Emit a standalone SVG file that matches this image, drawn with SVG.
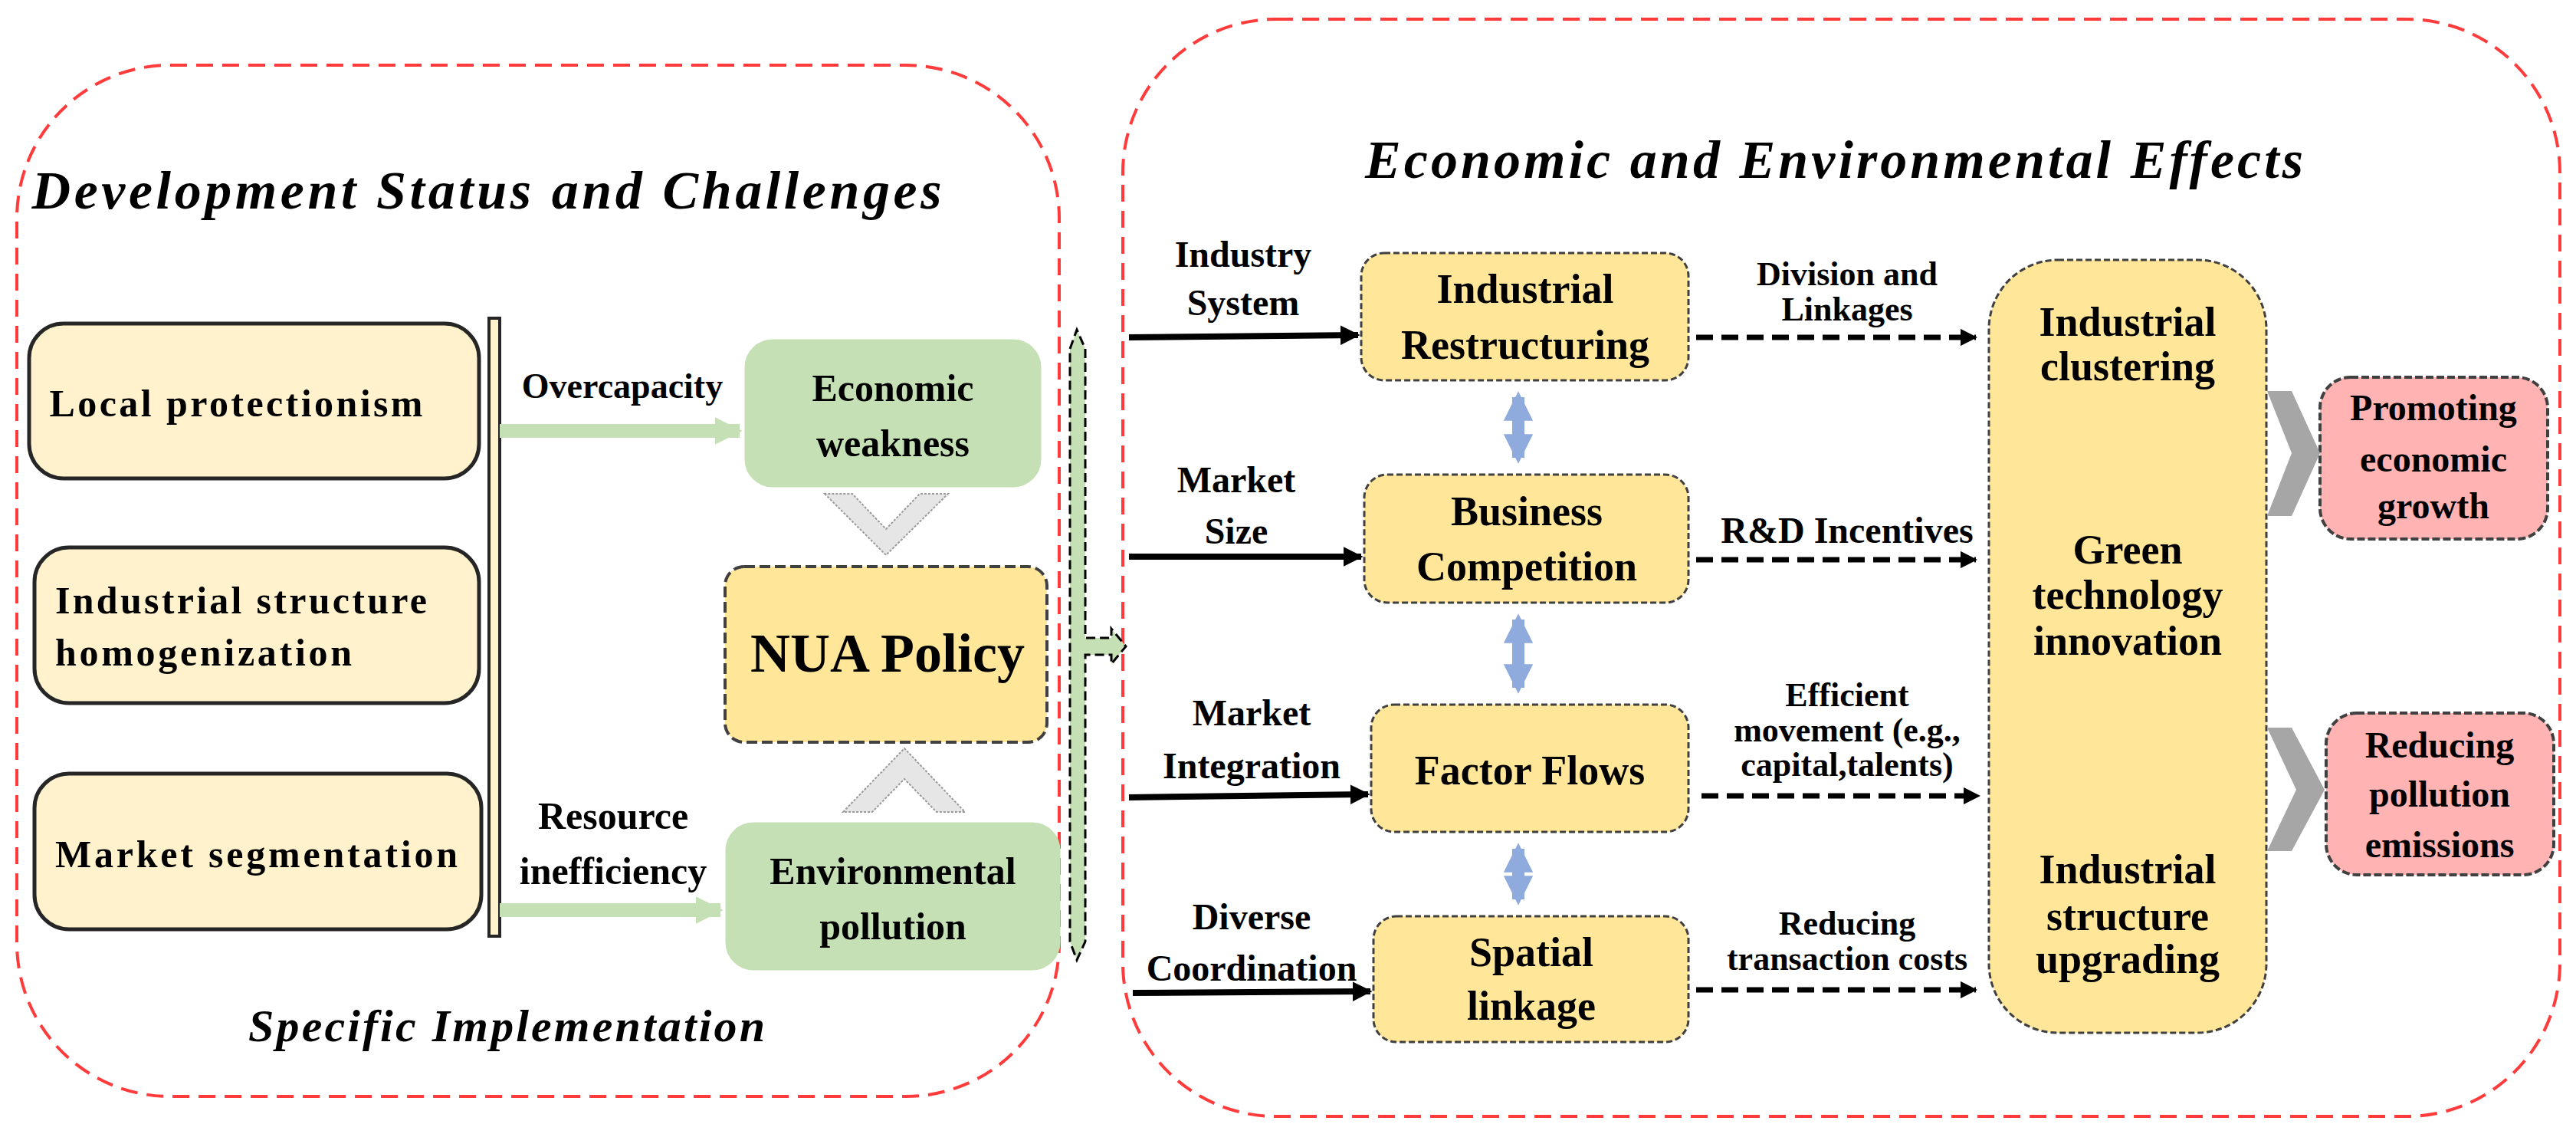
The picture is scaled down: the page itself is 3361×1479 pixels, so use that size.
<svg xmlns="http://www.w3.org/2000/svg" width="3361" height="1479" viewBox="0 0 3361 1479" font-family="'Liberation Serif', 'Times New Roman', 'DejaVu Serif', serif">
<defs>
<style>
text{font-family:'Liberation Serif','Times New Roman','DejaVu Serif',serif;font-weight:bold;fill:#000;text-anchor:middle}
.t{font-style:italic;font-size:70px}
.l{font-size:50px}
.m{font-size:54px}
.e{font-size:48px}
.s{font-size:44px}
.cont{fill:none;stroke:#FF3B3B;stroke-width:4;stroke-dasharray:22 12}
.lb{fill:#FFF2CC;stroke:#262626;stroke-width:5}
.gb{fill:#C5E0B4;stroke:#C5E0B4;stroke-width:3}
.yb{fill:#FFE699;stroke:#404040;stroke-width:3;stroke-dasharray:8 4}
.pb{fill:#FFB3B3;stroke:#404040;stroke-width:4;stroke-dasharray:10 4}
.ga{stroke:#C5E0B4;stroke-width:18;fill:none}
.bk{stroke:#000;stroke-width:8;fill:none}
.dk{stroke:#000;stroke-width:7;fill:none;stroke-dasharray:22 11}
.ba{stroke:#8FAADC;stroke-width:16;fill:none}
</style>
<marker id="ah" viewBox="0 0 10 10" refX="9" refY="5" markerWidth="3.2" markerHeight="3.2" orient="auto" markerUnits="strokeWidth"><path d="M0 0L10 5L0 10z" fill="#000"/></marker>
<marker id="gh" viewBox="0 0 10 10" refX="9" refY="5" markerWidth="2" markerHeight="3" orient="auto" markerUnits="strokeWidth"><path d="M0 0L10 5L0 10z" fill="#C5E0B4"/></marker>
<marker id="bh" viewBox="0 0 10 10" refX="8" refY="5" markerWidth="2.4" markerHeight="2.8" orient="auto-start-reverse" markerUnits="strokeWidth"><path d="M0 0L10 5L0 10z" fill="#8FAADC"/></marker>
</defs>
<rect width="3361" height="1479" fill="#fff"/>
<g id="containers">
<rect class="cont" x="22" y="85" width="1360" height="1345" rx="200"/>
<rect class="cont" x="1465" y="25" width="1875" height="1431" rx="200"/>
</g>
<g id="titles">
<text class="t" x="635" y="272" textLength="1187">Development Status and Challenges</text>
<text class="t" x="2393" y="232" textLength="1224">Economic and Environmental Effects</text>
<text class="t" x="661" y="1358" style="font-size:60px" textLength="674">Specific Implementation</text>
</g>
<g id="n-local"><rect class="lb" x="38" y="422" width="587" height="202" rx="45"/><text class="l" x="308" y="543" textLength="487">Local protectionism</text></g>
<g id="n-homog"><rect class="lb" x="45" y="714" width="580" height="203" rx="45"/><text class="l" x="72" y="800" style="text-anchor:start" textLength="485">Industrial structure</text><text class="l" x="72" y="868" style="text-anchor:start" textLength="387">homogenization</text></g>
<g id="n-seg"><rect class="lb" x="45" y="1009" width="583" height="203" rx="45"/><text class="l" x="72" y="1131" style="text-anchor:start" textLength="525">Market segmentation</text></g>
<g id="n-bar"><rect x="638" y="415" width="14" height="806" fill="#FFF2CC" stroke="#262626" stroke-width="4"/></g>
<g id="n-econ"><rect class="gb" x="973" y="444" width="384" height="190" rx="35"/><text class="l" x="1165" y="523">Economic</text><text class="l" x="1165" y="595">weakness</text></g>
<g id="n-env"><rect class="gb" x="948" y="1074" width="434" height="190" rx="35"/><text class="l" x="1165" y="1153">Environmental</text><text class="l" x="1165" y="1225">pollution</text></g>
<g id="n-nua"><rect class="yb" x="946" y="739" width="420" height="229" rx="25" style="stroke-dasharray:14 6;stroke-width:4"/><text x="1158" y="876" style="font-size:72px">NUA Policy</text></g>
<g id="n-ir"><rect class="yb" x="1776" y="330" width="427" height="166" rx="30"/><text class="m" x="1990" y="395">Industrial</text><text class="m" x="1990" y="468">Restructuring</text></g>
<g id="n-bc"><rect class="yb" x="1780" y="619" width="423" height="167" rx="30"/><text class="m" x="1992" y="685">Business</text><text class="m" x="1992" y="757">Competition</text></g>
<g id="n-ff"><rect class="yb" x="1789" y="919" width="414" height="166" rx="30"/><text class="m" x="1996" y="1023">Factor Flows</text></g>
<g id="n-sl"><rect class="yb" x="1792" y="1195" width="411" height="164" rx="30"/><text class="m" x="1998" y="1260">Spatial</text><text class="m" x="1998" y="1330">linkage</text></g>
<g id="n-big"><rect class="yb" x="2595" y="339" width="362" height="1008" rx="90"/>
<text class="m" x="2776" y="438">Industrial</text><text class="m" x="2776" y="496">clustering</text>
<text class="m" x="2776" y="735">Green</text><text class="m" x="2776" y="794">technology</text><text class="m" x="2776" y="854">innovation</text>
<text class="m" x="2776" y="1152">Industrial</text><text class="m" x="2776" y="1213">structure</text><text class="m" x="2776" y="1269">upgrading</text></g>
<g id="n-growth"><rect class="pb" x="3027" y="492" width="297" height="211" rx="40"/><text class="e" x="3175" y="548">Promoting</text><text class="e" x="3175" y="615">economic</text><text class="e" x="3175" y="676">growth</text></g>
<g id="n-emis"><rect class="pb" x="3035" y="930" width="297" height="211" rx="40"/><text class="e" x="3183" y="988">Reducing</text><text class="e" x="3183" y="1052">pollution</text><text class="e" x="3183" y="1118">emissions</text></g>
<g id="connectors">
<line class="ga" x1="652" y1="562" x2="965" y2="562" marker-end="url(#gh)"/>
<line class="ga" x1="652" y1="1187" x2="940" y2="1187" marker-end="url(#gh)"/>
<path d="M1076 644L1156 724L1237 644L1200 644L1156 690L1112 644Z" fill="#E6E6E6" stroke="#999" stroke-width="2" stroke-dasharray="3 2"/>
<path d="M1100 1059L1180 976L1259 1059L1222 1059L1180 1016L1138 1059Z" fill="#E6E6E6" stroke="#999" stroke-width="2" stroke-dasharray="3 2"/>
<path d="M1396 455L1405 430L1416 455L1416 832L1450 832L1450 820L1469 843L1450 866L1450 854L1416 854L1416 1228L1405 1252L1396 1228Z" fill="#C5E0B4" stroke="#000" stroke-width="3" stroke-dasharray="12 6"/>
<line class="bk" x1="1473" y1="440" x2="1772" y2="437" marker-end="url(#ah)"/>
<line class="bk" x1="1473" y1="726" x2="1776" y2="726" marker-end="url(#ah)"/>
<line class="bk" x1="1473" y1="1040" x2="1785" y2="1036" marker-end="url(#ah)"/>
<line class="bk" x1="1478" y1="1295" x2="1788" y2="1293" marker-end="url(#ah)"/>
<line class="dk" x1="2213" y1="440" x2="2578" y2="440" marker-end="url(#ah)"/>
<line class="dk" x1="2213" y1="730" x2="2578" y2="730" marker-end="url(#ah)"/>
<line class="dk" x1="2220" y1="1038" x2="2582" y2="1038" marker-end="url(#ah)"/>
<line class="dk" x1="2213" y1="1291" x2="2578" y2="1291" marker-end="url(#ah)"/>
<line class="ba" x1="1981" y1="518" x2="1981" y2="597" marker-start="url(#bh)" marker-end="url(#bh)"/>
<line class="ba" x1="1981" y1="808" x2="1981" y2="897" marker-start="url(#bh)" marker-end="url(#bh)"/>
<line class="ba" x1="1981" y1="1107" x2="1981" y2="1173" marker-start="url(#bh)" marker-end="url(#bh)"/>
<path d="M2958 510L2990 510L3027 591L2990 673L2958 673L2990 591Z" fill="#A6A6A6"/>
<path d="M2958 949L2990 949L3033 1030L2990 1110L2958 1110L2996 1030Z" fill="#A6A6A6"/>
</g>
<g id="labels">
<text class="l" x="812" y="519" style="font-size:46px">Overcapacity</text>
<text class="l" x="800" y="1081">Resource</text><text class="l" x="800" y="1153">inefficiency</text>
<text class="e" x="1622" y="348">Industry</text><text class="e" x="1622" y="411">System</text>
<text class="e" x="1613" y="642">Market</text><text class="e" x="1613" y="709">Size</text>
<text class="e" x="1633" y="946">Market</text><text class="e" x="1633" y="1015">Integration</text>
<text class="e" x="1633" y="1212">Diverse</text><text class="e" x="1633" y="1279">Coordination</text>
<text class="s" x="2410" y="372">Division and</text><text class="s" x="2410" y="418">Linkages</text>
<text class="e" x="2410" y="708">R&amp;D Incentives</text>
<text class="s" x="2410" y="921">Efficient</text><text class="s" x="2410" y="967">movement (e.g.,</text><text class="s" x="2410" y="1012">capital,talents)</text>
<text class="s" x="2410" y="1219">Reducing</text><text class="s" x="2410" y="1265">transaction costs</text>
</g>
</svg>
